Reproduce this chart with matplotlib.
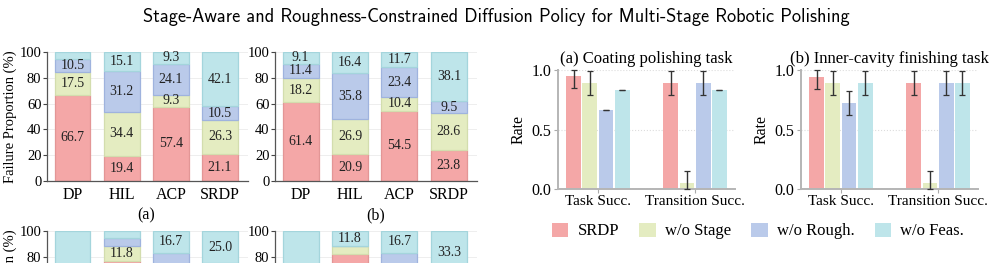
import matplotlib
matplotlib.use('Agg')
import matplotlib.pyplot as plt
from matplotlib.patches import Patch
import numpy as np

# ---- data ----
methods = ['DP', 'HIL', 'ACP', 'SRDP']
# stacked failure proportions (%), rows = failure type (red, green, blue, cyan)
fail_top_a = [[66.7, 19.4, 57.4, 21.1],
              [17.5, 34.4, 9.3, 26.3],
              [10.5, 31.2, 24.1, 10.5],
              [5.3, 15.1, 9.3, 42.1]]
fail_top_b = [[61.4, 20.9, 54.5, 23.8],
              [18.2, 26.9, 10.4, 28.6],
              [11.4, 35.8, 23.4, 9.5],
              [9.1, 16.4, 11.7, 38.1]]
# lower row, only the upper part is visible in the picture
fail_bot_a = [[0.0, 76.5, 33.3, 25.0],
              [0.0, 11.8, 16.7, 25.0],
              [0.0, 5.9, 33.3, 25.0],
              [100.0, 5.9, 16.7, 25.0]]
fail_bot_b = [[0.0, 82.3, 50.0, 33.3],
              [0.0, 5.9, 0.0, 0.0],
              [0.0, 0.0, 33.3, 33.3],
              [100.0, 11.8, 16.7, 33.3]]

metrics = ['Task Succ.', 'Transition Succ.']
variants = ['SRDP', 'w/o Stage', 'w/o Rough.', 'w/o Feas.']
# rates per variant: [task, transition]
coat_mean = [[0.95, 0.89], [0.89, 0.05], [0.667, 0.89], [0.833, 0.833]]
coat_std = [[0.10, 0.10], [0.10, 0.10], [0.0, 0.10], [0.0, 0.0]]
cavity_mean = [[0.944, 0.89], [0.89, 0.05], [0.72, 0.89], [0.89, 0.89]]
cavity_std = [[0.10, 0.10], [0.10, 0.10], [0.10, 0.10], [0.10, 0.10]]

colors = ['#F4A7A7', '#E4ECC1', '#BACAEA', '#BEE5EA']
edges = ['#E39696', '#D3DDAE', '#9FB3DE', '#A4D5DC']

plt.rcParams['font.family'] = ['Liberation Serif', 'DejaVu Serif']

fig = plt.figure(figsize=(9.93, 2.63), dpi=100)
W, H = 993.0, 263.0


def stacked(rect, data, ylabel=True):
    ax = fig.add_axes(rect)
    x = np.arange(len(methods))
    cum = np.zeros(len(methods))
    for k, vals in enumerate(data):
        vals = np.array(vals)
        ax.bar(x, vals, bottom=cum, width=0.73, color=colors[k],
               edgecolor=edges[k], linewidth=0.9, zorder=2)
        for xi, b, v in zip(x, cum, vals):
            if v >= 8:
                ax.text(xi, b + v / 2, '%.1f' % v, ha='center', va='center',
                        fontsize=10, color='#222222', zorder=3)
        cum += vals
    ax.set_ylim(0, 100)
    ax.set_xlim(-0.52, 3.57)
    ax.set_yticks([0, 20, 40, 60, 80, 100])
    ax.set_xticks(x)
    ax.set_xticklabels(methods, fontsize=11.5)
    ax.tick_params(axis='x', length=0, pad=4)
    ax.tick_params(axis='y', labelsize=10.5, length=3, width=0.8,
                   color='#444444', pad=1)
    ax.yaxis.grid(True, color='#eeeeee', linewidth=0.7, zorder=0)
    ax.set_axisbelow(True)
    for s in ['top', 'right']:
        ax.spines[s].set_visible(False)
    for s in ['left', 'bottom']:
        ax.spines[s].set_color('#555555')
        ax.spines[s].set_linewidth(0.9)
    if ylabel:
        ax.set_ylabel('Failure Proportion (%)', fontsize=10.5, labelpad=2)
    return ax


def rate_panel(rect, mean, std, title):
    ax = fig.add_axes(rect)
    x = np.arange(len(metrics))
    off = 0.167
    for i, name in enumerate(variants):
        m = np.array(mean[i])
        s = np.array(std[i])
        lo = m - np.clip(m - s, 0, 1)
        hi = np.clip(m + s, 0, 1) - m
        ax.bar(x + (i - 1.5) * off, m, width=0.15, color=colors[i],
               edgecolor='none', zorder=2, label=name)
        ax.errorbar(x + (i - 1.5) * off, m, yerr=[lo, hi], fmt='none',
                    ecolor='#333333', elinewidth=1.0, capsize=2.5,
                    capthick=0.9, zorder=3, clip_on=False)
    ax.set_xlim(-0.41, 1.41)
    ax.set_ylim(0, 1.0)
    ax.set_yticks([0.0, 0.5, 1.0])
    ax.set_yticklabels(['0.0', '0.5', '1.0'])
    ax.set_xticks(x)
    ax.set_xticklabels(metrics, fontsize=11)
    ax.tick_params(axis='x', length=3, color='#aaaaaa', pad=1)
    ax.tick_params(axis='y', labelsize=11.5, length=3, color='#aaaaaa', pad=2)
    ax.yaxis.grid(True, color='#dddddd', linestyle=':', linewidth=0.8, zorder=0)
    ax.set_axisbelow(True)
    for s in ['top', 'right']:
        ax.spines[s].set_visible(False)
    for s in ['left', 'bottom']:
        ax.spines[s].set_color('#b5b5b5')
        ax.spines[s].set_linewidth(1.4)
    ax.set_ylabel('Rate', fontsize=11.5, labelpad=3)
    ax.set_title(title, fontsize=12, pad=5)
    return ax


h = 129 / H
ax1 = stacked([47 / W, 1 - 181 / H, 201 / W, h], fail_top_a)
ax2 = stacked([275 / W, 1 - 181 / H, 202 / W, h], fail_top_b, ylabel=False)
ax3 = stacked([47 / W, 1 - 360 / H, 201 / W, h], fail_bot_a)
ax4 = stacked([275 / W, 1 - 360 / H, 202 / W, h], fail_bot_b, ylabel=False)

fig.text(146 / W, 1 - 215 / H, '(a)', ha='center', va='center', fontsize=11.5)
fig.text(376 / W, 1 - 215 / H, '(b)', ha='center', va='center', fontsize=11.5)

rh = 119.3 / H
rate_panel([558 / W, 1 - 189.3 / H, 177 / W, rh], coat_mean, coat_std,
           '(a) Coating polishing task')
rate_panel([801 / W, 1 - 189.3 / H, 177 / W, rh], cavity_mean, cavity_std,
           '(b) Inner-cavity finishing task')

handles = [Patch(facecolor=c, edgecolor='none') for c in colors]
fig.legend(handles, variants, loc='center', ncol=4, frameon=False,
           bbox_to_anchor=(758 / W, 1 - 231 / H), fontsize=12,
           handlelength=1.0, handleheight=0.9, handletextpad=0.55,
           columnspacing=1.2)

fig.suptitle('Stage-Aware and Roughness-Constrained Diffusion Policy for '
             'Multi-Stage Robotic Polishing', family=['cmss10', 'DejaVu Sans'],
             fontsize=13.2, x=0.5, y=1 - 17 / H, va='center')

fig.savefig('out.png', dpi=100)
